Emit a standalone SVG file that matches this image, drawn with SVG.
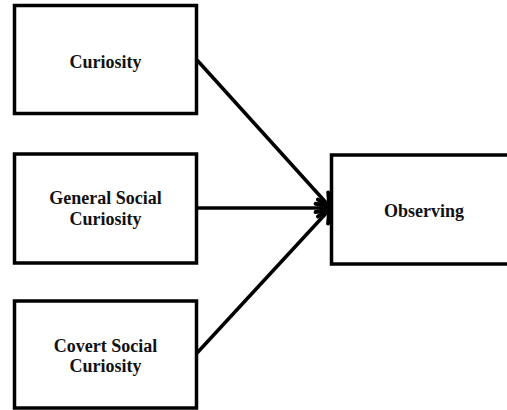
<svg xmlns="http://www.w3.org/2000/svg" width="507" height="410" viewBox="0 0 507 410">
<style>
.box{fill:#fff;stroke:#000;stroke-width:3.5}
.lbl{font-family:"Liberation Serif","Times New Roman",serif;font-weight:bold;font-size:18px;fill:#111;text-anchor:middle}
.edge{stroke:#000;stroke-width:3.5;fill:none;marker-end:url(#arr)}
</style>
<defs>
<marker id="arr" markerUnits="userSpaceOnUse" viewBox="0 0 16 22" refX="14" refY="11" markerWidth="16" markerHeight="22" orient="auto">
<path d="M2,2.5 L13,11 L2,19.5" fill="none" stroke="#000" stroke-width="4" stroke-linejoin="round" stroke-linecap="round"/>
</marker>
</defs>
<rect width="507" height="410" fill="#fff"/>
<g id="connectors">
<line class="edge" x1="197" y1="60" x2="330" y2="207"/>
<line class="edge" x1="197" y1="208" x2="330" y2="208"/>
<line class="edge" x1="197" y1="353" x2="330" y2="209"/>
</g>
<g id="curiosity">
<rect class="box" x="14.5" y="5.5" width="182" height="108"/>
<text class="lbl" x="105.5" y="68">Curiosity</text>
</g>
<g id="general">
<rect class="box" x="14.5" y="154" width="182" height="109"/>
<text class="lbl" x="105.5" y="204">General Social</text>
<text class="lbl" x="105.5" y="225">Curiosity</text>
</g>
<g id="covert">
<rect class="box" x="14.5" y="301" width="182" height="107"/>
<text class="lbl" x="105.5" y="352">Covert Social</text>
<text class="lbl" x="105.5" y="372">Curiosity</text>
</g>
<g id="observing">
<rect class="box" x="331.5" y="155" width="190" height="109"/>
<text class="lbl" x="424" y="217">Observing</text>
</g>
</svg>
